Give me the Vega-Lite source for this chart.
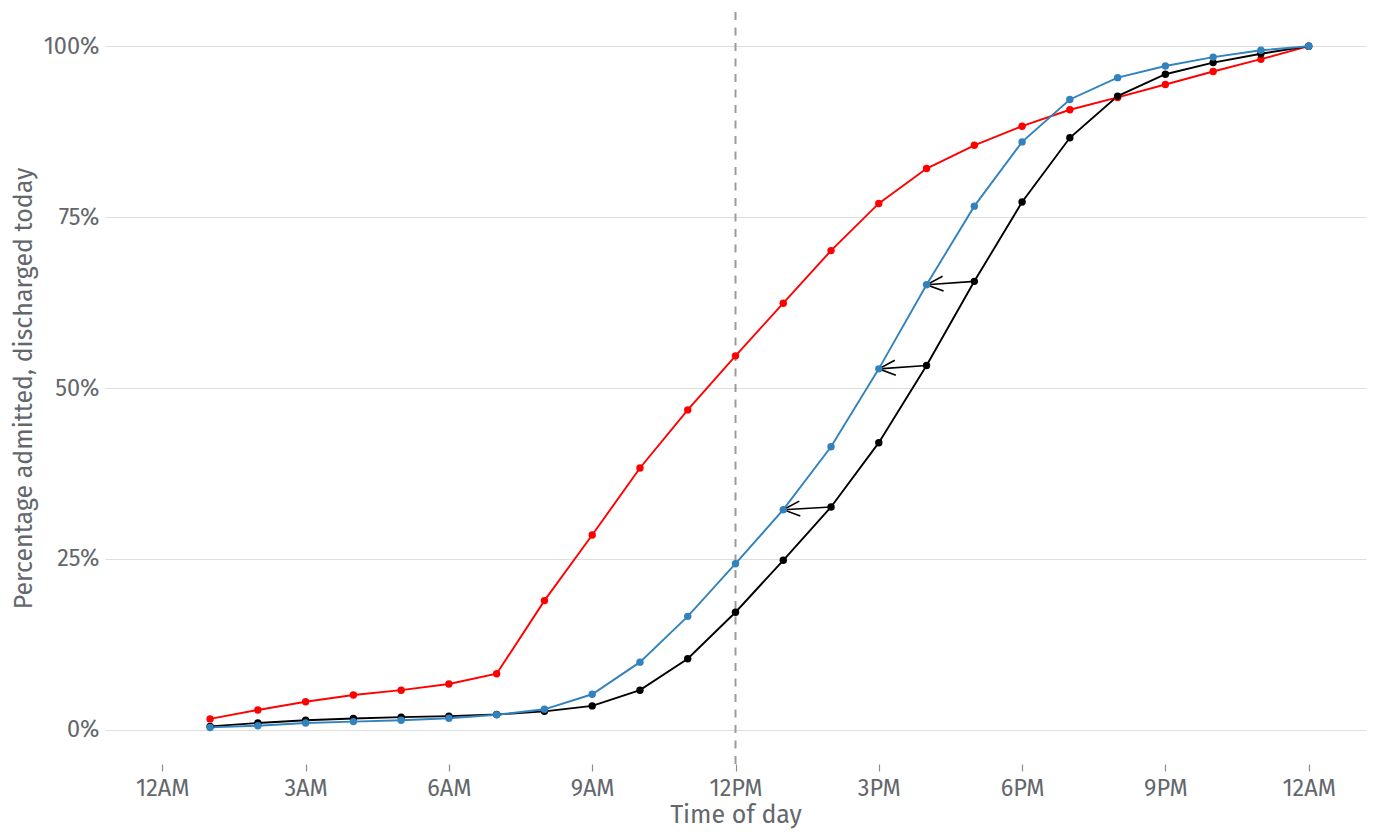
{
  "$schema": "https://vega.github.io/schema/vega-lite/v6.json",
  "description": "Cumulative percentage of patients admitted and discharged by time of day",
  "autosize": {"type": "none"},
  "width": 1261,
  "height": 752,
  "padding": {"left": 105, "top": 12, "right": 13, "bottom": 76},
  "background": "white",
  "datasets": {
    "curves": [
      {"hour": 1, "series": "Admissions", "pct": 1.6},
      {"hour": 2, "series": "Admissions", "pct": 2.9},
      {"hour": 3, "series": "Admissions", "pct": 4.1},
      {"hour": 4, "series": "Admissions", "pct": 5.1},
      {"hour": 5, "series": "Admissions", "pct": 5.8},
      {"hour": 6, "series": "Admissions", "pct": 6.7},
      {"hour": 7, "series": "Admissions", "pct": 8.2},
      {"hour": 8, "series": "Admissions", "pct": 18.9},
      {"hour": 9, "series": "Admissions", "pct": 28.5},
      {"hour": 10, "series": "Admissions", "pct": 38.3},
      {"hour": 11, "series": "Admissions", "pct": 46.8},
      {"hour": 12, "series": "Admissions", "pct": 54.7},
      {"hour": 13, "series": "Admissions", "pct": 62.4},
      {"hour": 14, "series": "Admissions", "pct": 70.1},
      {"hour": 15, "series": "Admissions", "pct": 77.0},
      {"hour": 16, "series": "Admissions", "pct": 82.1},
      {"hour": 17, "series": "Admissions", "pct": 85.5},
      {"hour": 18, "series": "Admissions", "pct": 88.3},
      {"hour": 19, "series": "Admissions", "pct": 90.7},
      {"hour": 20, "series": "Admissions", "pct": 92.5},
      {"hour": 21, "series": "Admissions", "pct": 94.4},
      {"hour": 22, "series": "Admissions", "pct": 96.3},
      {"hour": 23, "series": "Admissions", "pct": 98.1},
      {"hour": 24, "series": "Admissions", "pct": 100},
      {"hour": 1, "series": "Discharges", "pct": 0.5},
      {"hour": 2, "series": "Discharges", "pct": 1.0},
      {"hour": 3, "series": "Discharges", "pct": 1.4},
      {"hour": 4, "series": "Discharges", "pct": 1.65},
      {"hour": 5, "series": "Discharges", "pct": 1.85},
      {"hour": 6, "series": "Discharges", "pct": 2.0},
      {"hour": 7, "series": "Discharges", "pct": 2.25},
      {"hour": 8, "series": "Discharges", "pct": 2.7},
      {"hour": 9, "series": "Discharges", "pct": 3.5},
      {"hour": 10, "series": "Discharges", "pct": 5.8},
      {"hour": 11, "series": "Discharges", "pct": 10.4},
      {"hour": 12, "series": "Discharges", "pct": 17.2},
      {"hour": 13, "series": "Discharges", "pct": 24.8},
      {"hour": 14, "series": "Discharges", "pct": 32.6},
      {"hour": 15, "series": "Discharges", "pct": 42.0},
      {"hour": 16, "series": "Discharges", "pct": 53.3},
      {"hour": 17, "series": "Discharges", "pct": 65.6},
      {"hour": 18, "series": "Discharges", "pct": 77.2},
      {"hour": 19, "series": "Discharges", "pct": 86.6},
      {"hour": 20, "series": "Discharges", "pct": 92.7},
      {"hour": 21, "series": "Discharges", "pct": 95.9},
      {"hour": 22, "series": "Discharges", "pct": 97.6},
      {"hour": 23, "series": "Discharges", "pct": 98.9},
      {"hour": 24, "series": "Discharges", "pct": 100},
      {"hour": 1, "series": "Discharges one hour earlier", "pct": 0.35},
      {"hour": 2, "series": "Discharges one hour earlier", "pct": 0.6},
      {"hour": 3, "series": "Discharges one hour earlier", "pct": 1.0},
      {"hour": 4, "series": "Discharges one hour earlier", "pct": 1.2},
      {"hour": 5, "series": "Discharges one hour earlier", "pct": 1.4},
      {"hour": 6, "series": "Discharges one hour earlier", "pct": 1.7},
      {"hour": 7, "series": "Discharges one hour earlier", "pct": 2.2},
      {"hour": 8, "series": "Discharges one hour earlier", "pct": 3.0},
      {"hour": 9, "series": "Discharges one hour earlier", "pct": 5.2},
      {"hour": 10, "series": "Discharges one hour earlier", "pct": 9.9},
      {"hour": 11, "series": "Discharges one hour earlier", "pct": 16.6},
      {"hour": 12, "series": "Discharges one hour earlier", "pct": 24.3},
      {"hour": 13, "series": "Discharges one hour earlier", "pct": 32.2},
      {"hour": 14, "series": "Discharges one hour earlier", "pct": 41.4},
      {"hour": 15, "series": "Discharges one hour earlier", "pct": 52.8},
      {"hour": 16, "series": "Discharges one hour earlier", "pct": 65.1},
      {"hour": 17, "series": "Discharges one hour earlier", "pct": 76.6},
      {"hour": 18, "series": "Discharges one hour earlier", "pct": 86.0},
      {"hour": 19, "series": "Discharges one hour earlier", "pct": 92.2},
      {"hour": 20, "series": "Discharges one hour earlier", "pct": 95.4},
      {"hour": 21, "series": "Discharges one hour earlier", "pct": 97.1},
      {"hour": 22, "series": "Discharges one hour earlier", "pct": 98.4},
      {"hour": 23, "series": "Discharges one hour earlier", "pct": 99.4},
      {"hour": 24, "series": "Discharges one hour earlier", "pct": 100}
    ],
    "arrows": [
      {"from_hour": 14, "from_pct": 32.6, "to_hour": 13, "to_pct": 32.2},
      {"from_hour": 16, "from_pct": 53.3, "to_hour": 15, "to_pct": 52.8},
      {"from_hour": 17, "from_pct": 65.6, "to_hour": 16, "to_pct": 65.1}
    ],
    "noon": [{"hour": 12}]
  },
  "layer": [
    {
      "data": {"name": "curves"},
      "mark": {"type": "line", "strokeWidth": 1.9},
      "encoding": {
        "x": {
          "field": "hour",
          "type": "quantitative",
          "title": "Time of day",
          "scale": {"domain": [-1.2, 25.2], "nice": false, "zero": false},
          "axis": {
            "values": [0, 3, 6, 9, 12, 15, 18, 21, 24],
            "labelExpr": "datum.value % 24 == 0 ? '12AM' : datum.value == 12 ? '12PM' : datum.value < 12 ? datum.value + 'AM' : (datum.value - 12) + 'PM'",
            "grid": false,
            "domain": false,
            "ticks": true,
            "tickSize": 7,
            "tickWidth": 1.2,
            "tickColor": "#8c8c8c",
            "labelPadding": 5,
            "titlePadding": 3
          }
        },
        "y": {
          "field": "pct",
          "type": "quantitative",
          "title": "Percentage admitted, discharged today",
          "scale": {"domain": [-5, 105], "nice": false, "zero": false},
          "axis": {
            "values": [0, 25, 50, 75, 100],
            "labelExpr": "datum.value + '%'",
            "grid": true,
            "gridColor": "#dedede",
            "gridWidth": 1,
            "domain": false,
            "ticks": false,
            "labelPadding": 6,
            "titlePadding": 7
          }
        },
        "color": {
          "field": "series",
          "type": "nominal",
          "scale": {
            "domain": ["Admissions", "Discharges", "Discharges one hour earlier"],
            "range": ["#ff0000", "#000000", "#3182bd"]
          },
          "legend": null
        },
        "order": {"field": "hour"}
      }
    },
    {
      "data": {"name": "noon"},
      "mark": {"type": "rule", "color": "#9b9b9b", "strokeWidth": 2, "strokeDash": [8, 7.5]},
      "encoding": {
        "x": {"field": "hour", "type": "quantitative", "title": "Time of day"}
      }
    },
    {
      "data": {"name": "arrows"},
      "mark": {"type": "rule", "color": "black", "strokeWidth": 1.6},
      "encoding": {
        "x": {"field": "from_hour", "type": "quantitative", "title": "Time of day"},
        "x2": {"field": "to_hour"},
        "y": {"field": "from_pct", "type": "quantitative", "title": "Percentage admitted, discharged today"},
        "y2": {"field": "to_pct"}
      }
    },
    {
      "data": {"name": "arrows"},
      "mark": {
        "type": "point",
        "shape": "M 1 -0.45 L 0 0 L 1 0.45",
        "size": 1100,
        "angle": -4,
        "filled": false,
        "color": "black",
        "strokeWidth": 1.6,
        "opacity": 1
      },
      "encoding": {
        "x": {"field": "to_hour", "type": "quantitative", "title": "Time of day"},
        "y": {"field": "to_pct", "type": "quantitative", "title": "Percentage admitted, discharged today"}
      }
    },
    {
      "data": {"name": "curves"},
      "mark": {"type": "circle", "size": 55, "opacity": 1},
      "encoding": {
        "x": {"field": "hour", "type": "quantitative", "title": "Time of day"},
        "y": {"field": "pct", "type": "quantitative", "title": "Percentage admitted, discharged today"},
        "color": {"field": "series", "type": "nominal", "legend": null}
      }
    }
  ],
  "config": {
    "view": {"stroke": null},
    "axis": {
      "labelFont": "Fira Sans, Open Sans, sans-serif",
      "titleFont": "Fira Sans, Open Sans, sans-serif",
      "labelFontSize": 23.5,
      "titleFontSize": 25,
      "titleFontWeight": "normal",
      "labelColor": "#63676c",
      "titleColor": "#63676c"
    }
  }
}
